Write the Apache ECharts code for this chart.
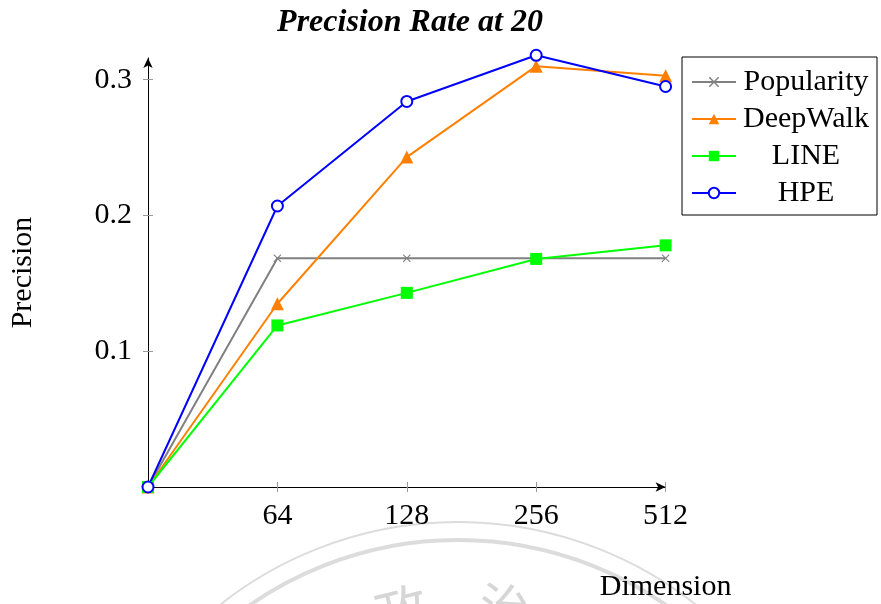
<!DOCTYPE html>
<html>
<head>
<meta charset="utf-8">
<script src="https://cdn.jsdelivr.net/npm/echarts@6/dist/echarts.min.js"></script>
<style>
  html, body { margin: 0; padding: 0; background: #fff; }
  #main { width: 881px; height: 604px; }
</style>
</head>
<body>
<div id="main"></div>
<script>
// x positions 0..4, 0 is the origin
var dimensions = ['', '64', '128', '256', '512'];
var yTicks = [0.1, 0.2, 0.3];

var popularity = [0, 0.1685, 0.1685, 0.1685, 0.1685];
var deepWalk = [0, 0.135, 0.243, 0.310, 0.303];
var line = [0, 0.119, 0.143, 0.168, 0.178];
var hpe = [0, 0.207, 0.284, 0.318, 0.295];

var serif = '"Liberation Serif", "DejaVu Serif", serif';

function pts(arr) {
    return arr.map(function (v, i) { return [i, v]; });
}

var crossMark = 'path://M0,1L1,0L5,4L9,0L10,1L6,5L10,9L9,10L5,6L1,10L0,9L4,5Z';

var myChart = echarts.init(document.getElementById('main'));

function mk(name, data, color, symbol, size, extra) {
    var s = {
        name: name,
        type: 'line',
        data: pts(data),
        symbol: symbol,
        symbolSize: size,
        showAllSymbol: true,
        clip: false,
        lineStyle: { color: color, width: 2 },
        itemStyle: { color: color },
        emphasis: { disabled: true },
        animation: false
    };
    return Object.assign(s, extra || {});
}

// second pair of axes only to draw the inner half of the ticks
var innerX = {
    type: 'value', min: 0, max: 4, interval: 1, position: 'bottom', offset: 0,
    axisLine: { show: false },
    axisTick: { show: true, inside: true, length: 5, lineStyle: { color: '#999' }, customValues: [1, 2, 3, 4] },
    axisLabel: { show: false },
    splitLine: { show: false }
};
var innerY = {
    type: 'value', min: 0, max: 0.316, position: 'left', offset: 0,
    axisLine: { show: false },
    axisTick: { show: true, inside: true, length: 5, lineStyle: { color: '#999' }, customValues: yTicks },
    axisLabel: { show: false },
    splitLine: { show: false }
};

myChart.setOption({
    animation: false,
    title: {
        text: 'Precision Rate at 20',
        left: 405,
        textAlign: 'center',
        top: 2,
        textStyle: { fontFamily: serif, fontSize: 32, fontStyle: 'italic', fontWeight: 'bold', color: '#000' }
    },
    legend: {
        orient: 'vertical',
        left: 682,
        top: 57,
        itemWidth: 44,
        itemHeight: 13,
        itemGap: 7,
        padding: [10, 6, 7, 9],
        borderColor: '#000',
        borderWidth: 1,
        backgroundColor: '#fff',
        formatter: function (n) { return '{t|' + n + '}'; },
        textStyle: {
            fontFamily: serif,
            fontSize: 30,
            color: '#000',
            rich: { t: { width: 130, align: 'center', fontFamily: serif, fontSize: 30, lineHeight: 30 } }
        },
        data: ['Popularity', 'DeepWalk', 'LINE', 'HPE']
    },
    grid: { left: 147, top: 58, width: 518.6, height: 429 },
    xAxis: [{
        type: 'value',
        min: 0,
        max: 4,
        interval: 1,
        position: 'bottom',
        name: 'Dimension',
        nameLocation: 'end',
        nameGap: 0,
        nameTextStyle: {
            fontFamily: serif, fontSize: 30, color: '#000',
            align: 'center', verticalAlign: 'top', padding: [85, 0, 0, 0]
        },
        axisLine: { lineStyle: { color: '#000', width: 1 }, symbol: ['none', 'arrow'], symbolSize: [7, 10] },
        axisTick: { show: true, inside: false, length: 5, lineStyle: { color: '#999' }, customValues: [1, 2, 3, 4] },
        axisLabel: {
            customValues: [1, 2, 3, 4],
            formatter: function (v) { return dimensions[v]; },
            fontFamily: serif, fontSize: 30, color: '#000', margin: 14
        },
        splitLine: { show: false }
    }, innerX],
    yAxis: [{
        type: 'value',
        min: 0,
        max: 0.316,
        position: 'left',
        name: 'Precision',
        nameLocation: 'middle',
        nameGap: 110,
        nameRotate: 90,
        nameTextStyle: { fontFamily: serif, fontSize: 30, color: '#000' },
        axisLine: { show: true, lineStyle: { color: '#000', width: 1 }, symbol: ['none', 'arrow'], symbolSize: [7, 10] },
        axisTick: { show: true, length: 5, lineStyle: { color: '#999' }, customValues: yTicks },
        axisLabel: {
            customValues: yTicks,
            formatter: function (v) { return String(Math.round(v * 10) / 10); },
            fontFamily: serif, fontSize: 30, color: '#000', margin: 16
        },
        splitLine: { show: false }
    }, innerY],
    graphic: [
        { type: 'circle', z: -10, silent: true, shape: { cx: 458, cy: 905, r: 383 }, style: { fill: 'none', stroke: '#dcdcdc', lineWidth: 2 } },
        { type: 'circle', z: -10, silent: true, shape: { cx: 458, cy: 905, r: 365 }, style: { fill: 'none', stroke: '#dcdcdc', lineWidth: 4 } },
        { type: 'text', z: -10, silent: true, x: 395, y: 585, rotation: 0.25, style: { text: '政', font: '52px "Noto Sans CJK TC"', fill: '#d6d6d6', align: 'center', verticalAlign: 'top' } },
        { type: 'text', z: -10, silent: true, x: 508, y: 582, rotation: -0.12, style: { text: '治', font: '52px "Noto Sans CJK TC"', fill: '#d6d6d6', align: 'center', verticalAlign: 'top' } }
    ],
    series: [
        mk('Popularity', popularity, '#808080', crossMark, 8),
        mk('DeepWalk', deepWalk, '#ff8000', 'triangle', 13),
        mk('LINE', line, '#00ff00', 'rect', 12),
        mk('HPE', hpe, '#0000ff', 'emptyCircle', 11, {
            itemStyle: { color: '#0000ff', borderWidth: 2 }
        })
    ]
});
</script>
</body>
</html>
